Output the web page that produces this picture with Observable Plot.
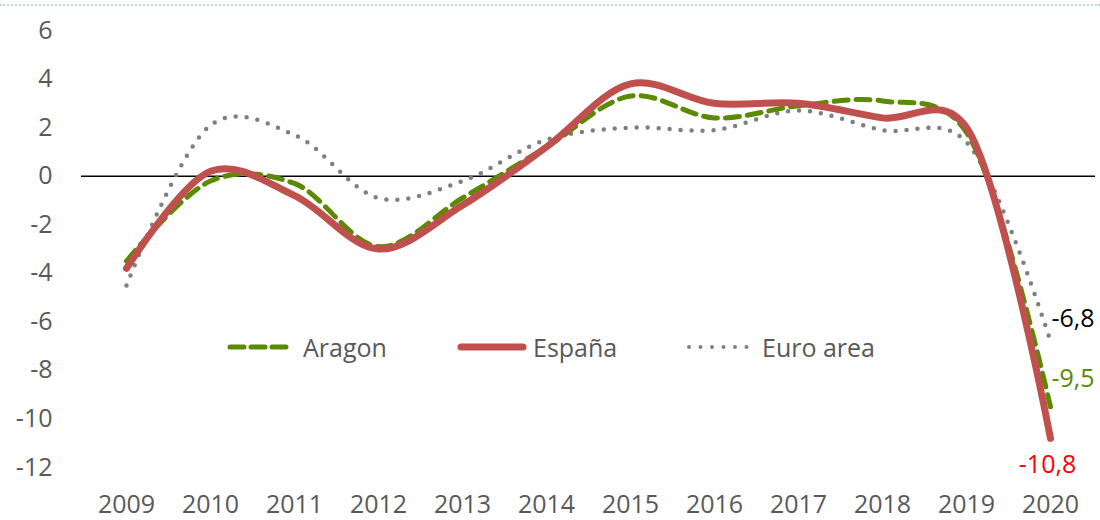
<!DOCTYPE html>
<html>
<head>
<meta charset="utf-8">
<script src="https://cdn.jsdelivr.net/npm/d3@7"></script>
<script src="https://cdn.jsdelivr.net/npm/@observablehq/plot@0.6"></script>
<style>
  html, body { margin: 0; padding: 0; background: #fff; }
  #wrap { position: relative; width: 1100px; height: 520px; font-family: "Open Sans", sans-serif; }
  #topline { position: absolute; left: 0; top: 4px; width: 1100px; border-top: 2px dotted #b7dccd; }
  #legend { position: absolute; left: 0; top: 330px; width: 1100px; height: 34px; font-size: 25px; color: #595959; }
  .item { position: absolute; top: 0; display: flex; align-items: center; height: 34px; }
</style>
</head>
<body>
<div id="wrap">
  <div id="chart"></div>
  <div id="topline"></div>
  <div id="legend"></div>
</div>
<script>
const years = [2009, 2010, 2011, 2012, 2013, 2014, 2015, 2016, 2017, 2018, 2019, 2020];
const aragon = [-3.5, -0.2, -0.3, -2.9, -0.9, 1.2, 3.3, 2.4, 2.9, 3.1, 1.8, -9.5];
const espana = [-3.8, 0.2, -0.8, -3.0, -1.2, 1.2, 3.8, 3.0, 3.0, 2.4, 2.0, -10.8];
const euro = [-4.5, 2.1, 1.7, -0.9, -0.2, 1.5, 2.0, 1.9, 2.7, 1.9, 1.4, -6.8];
const yTicks = [-12, -10, -8, -6, -4, -2, 0, 2, 4, 6];
const seriesNames = ["Aragon", "España", "Euro area"];
const endLabels = ["-9,5", "-10,8", "-6,8"];

const colors = { "Aragon": "#5a8a00", "España": "#c0504d", "Euro area": "#7f7f7f" };
const labelColors = { "Aragon": "#5a8a00", "España": "#ff0000", "Euro area": "#000000" };

const toRows = (name, vals) => years.map((y, i) => ({ series: name, year: y, value: vals[i] }));
const rowsAragon = toRows("Aragon", aragon);
const rowsEspana = toRows("España", espana);
const rowsEuro = toRows("Euro area", euro);

const n = years.length - 1;
const ends = [
  { series: "Euro area", year: years[n], value: euro[n], label: endLabels[2] },
  { series: "Aragon", year: years[n], value: aragon[n], label: endLabels[0] },
  { series: "España", year: years[n], value: espana[n], label: endLabels[1] }
];

const curve = d3.curveCatmullRom.alpha(0.2);

const chart = Plot.plot({
  width: 1100,
  height: 520,
  marginLeft: 81,
  marginRight: 5,
  marginTop: 30,
  marginBottom: 53,
  style: { fontFamily: "'Open Sans', sans-serif", fontSize: "25px", color: "#595959", background: "transparent", overflow: "visible" },
  x: { type: "point", domain: years, padding: 0.5 },
  y: { domain: [-12, 6] },
  marks: [
    Plot.axisY({ ticks: yTicks, tickSize: 0, tickPadding: 29, tickFormat: d => String(d), label: null }),
    Plot.axisX({ tickSize: 0, tickPadding: 28, tickFormat: d => String(d), label: null }),
    Plot.ruleY([0], { stroke: "#000", strokeWidth: 1.5 }),
    Plot.line(rowsEuro, { x: "year", y: "value", stroke: colors["Euro area"], strokeWidth: 4.5, strokeDasharray: "0 11", strokeLinecap: "round", curve }),
    Plot.line(rowsAragon, { x: "year", y: "value", stroke: colors["Aragon"], strokeWidth: 5, strokeDasharray: "14 8", curve }),
    Plot.line(rowsEspana, { x: "year", y: "value", stroke: colors["España"], strokeWidth: 7, strokeLinecap: "round", curve }),
    Plot.text(ends.filter(d => d.series === "Euro area"), { x: "year", y: "value", text: "label", fill: labelColors["Euro area"], textAnchor: "start", dx: 1, dy: -22, fontSize: 25 }),
    Plot.text(ends.filter(d => d.series === "Aragon"), { x: "year", y: "value", text: "label", fill: labelColors["Aragon"], textAnchor: "start", dx: 1, dy: -28, fontSize: 25 }),
    Plot.text(ends.filter(d => d.series === "España"), { x: "year", y: "value", text: "label", fill: labelColors["España"], textAnchor: "middle", dx: -3, dy: 27, fontSize: 25 })
  ]
});
document.getElementById("chart").appendChild(chart);

// Legend overlay
const legend = document.getElementById("legend");
const legendItems = [
  { name: seriesNames[0], left: 227, sw: `<svg width="62" height="10"><line x1="3" y1="5" x2="59" y2="5" stroke="${colors["Aragon"]}" stroke-width="5" stroke-dasharray="14 7" stroke-linecap="round"/></svg>`, gap: 14 },
  { name: seriesNames[1], left: 457, sw: `<svg width="70" height="10"><line x1="4" y1="5" x2="66" y2="5" stroke="${colors["España"]}" stroke-width="7" stroke-linecap="round"/></svg>`, gap: 6 },
  { name: seriesNames[2], left: 686, sw: `<svg width="64" height="10"><line x1="3" y1="5" x2="62" y2="5" stroke="${colors["Euro area"]}" stroke-width="4" stroke-dasharray="0 11.5" stroke-linecap="round"/></svg>`, gap: 12 }
];
legendItems.forEach(it => {
  const div = document.createElement("div");
  div.className = "item";
  div.style.left = it.left + "px";
  div.innerHTML = it.sw + `<span style="margin-left:${it.gap}px">${it.name}</span>`;
  legend.appendChild(div);
});
</script>
</body>
</html>
